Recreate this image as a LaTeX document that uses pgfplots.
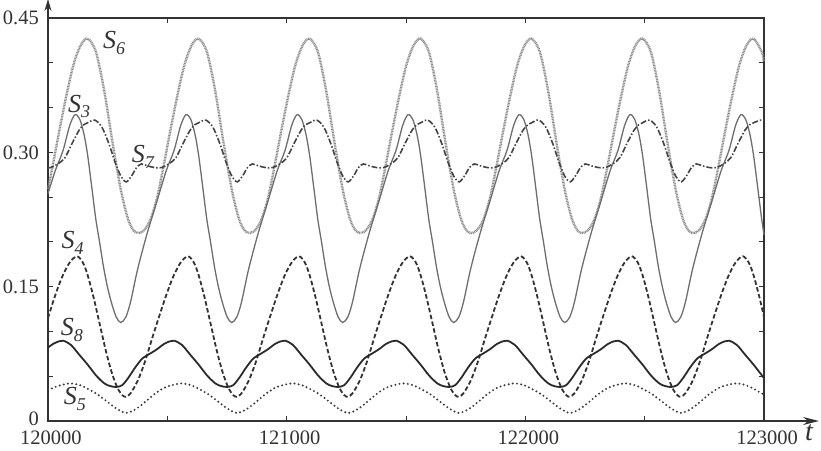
\documentclass[border=0pt]{standalone}
\usepackage{pgfplots}
\pgfplotsset{compat=1.18}
\usepackage{fontspec}
\setmainfont{Liberation Serif}
\usetikzlibrary{arrows.meta}
\definecolor{axc}{HTML}{333333}
\definecolor{cS6}{HTML}{8A8A8A}
\definecolor{cS3}{HTML}{6E6E6E}
\definecolor{cS7}{HTML}{444444}
\definecolor{cS4}{HTML}{333333}
\definecolor{cS8}{HTML}{2B2B2B}
\definecolor{cS5}{HTML}{3A3A3A}
\newcommand\lab[1]{{\fontsize{26}{26}\selectfont\itshape S\raisebox{-5.5pt}{\fontsize{18}{18}\selectfont #1}}}
\begin{document}
\begin{tikzpicture}
\begin{axis}[
  width=716pt, height=403pt, scale only axis,
  xmin=120000, xmax=123000, ymin=0, ymax=0.45,
  clip=false,
  axis line style={axc, line width=1.6pt},
  xtick={120000,121000,122000,123000},
  xticklabels={120000,121000,122000,123000},
  minor xtick={120500,121500,122500},
  ytick={0,0.15,0.3,0.45},
  yticklabels={\raisebox{4pt}{0},0.15,0.30,0.45},
  minor ytick={0.05,0.1,0.2,0.25,0.35,0.4},
  tick align=inside, tick pos=both,
  major tick length=5pt, minor tick length=5pt,
  every tick/.style={axc, line width=1pt},
  tick label style={font=\fontsize{20.5}{22}\selectfont, text=axc},
  /pgf/number format/assume math mode=true,
  xticklabel style={yshift=-10pt, xshift=3pt, inner sep=0pt},
  yticklabel style={xshift=-9pt, inner sep=0pt},
  scaled x ticks=false, scaled y ticks=false,
]
% S6
\addplot[cS6, line width=2.4pt, dash pattern=on 0.9pt off 0.7pt, smooth] coordinates {
(120000,0.259)(120016,0.280)(120046,0.322)(120076,0.362)(120106,0.397)(120136,0.419)
(120166,0.427)(120201,0.412)(120236,0.368)(120271,0.310)(120306,0.257)(120336,0.225)(120361,0.212)(120384,0.210)(120406,0.214)(120431,0.226)(120456,0.248)(120481,0.280)(120511,0.322)(120541,0.362)(120571,0.397)(120601,0.419)
(120631,0.427)(120666,0.412)(120701,0.368)(120736,0.310)(120771,0.257)(120801,0.225)(120826,0.212)(120849,0.210)(120871,0.214)(120896,0.226)(120921,0.248)(120946,0.280)(120976,0.322)(121006,0.362)(121036,0.397)(121066,0.419)
(121096,0.427)(121131,0.412)(121166,0.368)(121201,0.310)(121236,0.257)(121266,0.225)(121291,0.212)(121314,0.210)(121336,0.214)(121361,0.226)(121386,0.248)(121411,0.280)(121441,0.322)(121471,0.362)(121501,0.397)(121531,0.419)
(121561,0.427)(121596,0.412)(121631,0.368)(121666,0.310)(121701,0.257)(121731,0.225)(121756,0.212)(121779,0.210)(121801,0.214)(121826,0.226)(121851,0.248)(121876,0.280)(121906,0.322)(121936,0.362)(121966,0.397)(121996,0.419)
(122026,0.427)(122061,0.412)(122096,0.368)(122131,0.310)(122166,0.257)(122196,0.225)(122221,0.212)(122244,0.210)(122266,0.214)(122291,0.226)(122316,0.248)(122341,0.280)(122371,0.322)(122401,0.362)(122431,0.397)(122461,0.419)
(122491,0.427)(122526,0.412)(122561,0.368)(122596,0.310)(122631,0.257)(122661,0.225)(122686,0.212)(122709,0.210)(122731,0.214)(122756,0.226)(122781,0.248)(122806,0.280)(122836,0.322)(122866,0.362)(122896,0.397)(122926,0.419)
(122956,0.427)(122991,0.412)(123000,0.401)
};
% S3
\addplot[cS3, line width=1.3pt, smooth] coordinates {
(120000,0.254)(120031,0.280)(120063,0.302)(120091,0.330)(120113,0.342)(120133,0.337)(120151,0.320)
(120166,0.297)(120183,0.262)(120200,0.226)(120216,0.200)(120232,0.173)(120248,0.151)(120266,0.132)(120286,0.116)(120305,0.110)(120326,0.116)(120346,0.133)(120376,0.170)(120416,0.210)(120456,0.245)(120496,0.280)(120528,0.302)(120556,0.330)(120578,0.342)(120598,0.337)(120616,0.320)
(120631,0.297)(120648,0.262)(120665,0.226)(120681,0.200)(120697,0.173)(120713,0.151)(120731,0.132)(120751,0.116)(120770,0.110)(120791,0.116)(120811,0.133)(120841,0.170)(120881,0.210)(120921,0.245)(120961,0.280)(120993,0.302)(121021,0.330)(121043,0.342)(121063,0.337)(121081,0.320)
(121096,0.297)(121113,0.262)(121130,0.226)(121146,0.200)(121162,0.173)(121178,0.151)(121196,0.132)(121216,0.116)(121235,0.110)(121256,0.116)(121276,0.133)(121306,0.170)(121346,0.210)(121386,0.245)(121426,0.280)(121458,0.302)(121486,0.330)(121508,0.342)(121528,0.337)(121546,0.320)
(121561,0.297)(121578,0.262)(121595,0.226)(121611,0.200)(121627,0.173)(121643,0.151)(121661,0.132)(121681,0.116)(121700,0.110)(121721,0.116)(121741,0.133)(121771,0.170)(121811,0.210)(121851,0.245)(121891,0.280)(121923,0.302)(121951,0.330)(121973,0.342)(121993,0.337)(122011,0.320)
(122026,0.297)(122043,0.262)(122060,0.226)(122076,0.200)(122092,0.173)(122108,0.151)(122126,0.132)(122146,0.116)(122165,0.110)(122186,0.116)(122206,0.133)(122236,0.170)(122276,0.210)(122316,0.245)(122356,0.280)(122388,0.302)(122416,0.330)(122438,0.342)(122458,0.337)(122476,0.320)
(122491,0.297)(122508,0.262)(122525,0.226)(122541,0.200)(122557,0.173)(122573,0.151)(122591,0.132)(122611,0.116)(122630,0.110)(122651,0.116)(122671,0.133)(122701,0.170)(122741,0.210)(122781,0.245)(122821,0.280)(122853,0.302)(122881,0.330)(122903,0.342)(122923,0.337)(122941,0.320)
(122956,0.297)(122973,0.262)(122990,0.226)(123000,0.208)
};
% S7
\addplot[cS7, line width=1.6pt, dash pattern=on 6pt off 2pt on 1.5pt off 2pt, smooth] coordinates {
(120000,0.283)(120011,0.283)(120041,0.287)(120071,0.294)(120101,0.310)(120131,0.325)(120151,0.331)
(120166,0.333)(120196,0.336)(120226,0.328)(120256,0.309)(120281,0.289)(120306,0.273)(120328,0.267)(120351,0.274)(120371,0.283)(120391,0.287)(120416,0.285)(120446,0.283)(120476,0.283)(120506,0.287)(120536,0.294)(120566,0.310)(120596,0.325)(120616,0.331)
(120631,0.333)(120661,0.336)(120691,0.328)(120721,0.309)(120746,0.289)(120771,0.273)(120793,0.267)(120816,0.274)(120836,0.283)(120856,0.287)(120881,0.285)(120911,0.283)(120941,0.283)(120971,0.287)(121001,0.294)(121031,0.310)(121061,0.325)(121081,0.331)
(121096,0.333)(121126,0.336)(121156,0.328)(121186,0.309)(121211,0.289)(121236,0.273)(121258,0.267)(121281,0.274)(121301,0.283)(121321,0.287)(121346,0.285)(121376,0.283)(121406,0.283)(121436,0.287)(121466,0.294)(121496,0.310)(121526,0.325)(121546,0.331)
(121561,0.333)(121591,0.336)(121621,0.328)(121651,0.309)(121676,0.289)(121701,0.273)(121723,0.267)(121746,0.274)(121766,0.283)(121786,0.287)(121811,0.285)(121841,0.283)(121871,0.283)(121901,0.287)(121931,0.294)(121961,0.310)(121991,0.325)(122011,0.331)
(122026,0.333)(122056,0.336)(122086,0.328)(122116,0.309)(122141,0.289)(122166,0.273)(122188,0.267)(122211,0.274)(122231,0.283)(122251,0.287)(122276,0.285)(122306,0.283)(122336,0.283)(122366,0.287)(122396,0.294)(122426,0.310)(122456,0.325)(122476,0.331)
(122491,0.333)(122521,0.336)(122551,0.328)(122581,0.309)(122606,0.289)(122631,0.273)(122653,0.267)(122676,0.274)(122696,0.283)(122716,0.287)(122741,0.285)(122771,0.283)(122801,0.283)(122831,0.287)(122861,0.294)(122891,0.310)(122921,0.325)(122941,0.331)
(122956,0.333)(122986,0.336)(123000,0.335)
};
% S4
\addplot[cS4, line width=1.8pt, dash pattern=on 4.5pt off 2.5pt, smooth] coordinates {
(120000,0.115)(120031,0.141)(120061,0.162)(120091,0.177)(120121,0.184)(120146,0.177)
(120166,0.163)(120191,0.138)(120216,0.109)(120241,0.080)(120266,0.055)(120291,0.037)(120311,0.029)(120326,0.027)(120346,0.031)(120376,0.045)(120406,0.066)(120436,0.092)(120466,0.117)(120496,0.141)(120526,0.162)(120556,0.177)(120586,0.184)(120611,0.177)
(120631,0.163)(120656,0.138)(120681,0.109)(120706,0.080)(120731,0.055)(120756,0.037)(120776,0.029)(120791,0.027)(120811,0.031)(120841,0.045)(120871,0.066)(120901,0.092)(120931,0.117)(120961,0.141)(120991,0.162)(121021,0.177)(121051,0.184)(121076,0.177)
(121096,0.163)(121121,0.138)(121146,0.109)(121171,0.080)(121196,0.055)(121221,0.037)(121241,0.029)(121256,0.027)(121276,0.031)(121306,0.045)(121336,0.066)(121366,0.092)(121396,0.117)(121426,0.141)(121456,0.162)(121486,0.177)(121516,0.184)(121541,0.177)
(121561,0.163)(121586,0.138)(121611,0.109)(121636,0.080)(121661,0.055)(121686,0.037)(121706,0.029)(121721,0.027)(121741,0.031)(121771,0.045)(121801,0.066)(121831,0.092)(121861,0.117)(121891,0.141)(121921,0.162)(121951,0.177)(121981,0.184)(122006,0.177)
(122026,0.163)(122051,0.138)(122076,0.109)(122101,0.080)(122126,0.055)(122151,0.037)(122171,0.029)(122186,0.027)(122206,0.031)(122236,0.045)(122266,0.066)(122296,0.092)(122326,0.117)(122356,0.141)(122386,0.162)(122416,0.177)(122446,0.184)(122471,0.177)
(122491,0.163)(122516,0.138)(122541,0.109)(122566,0.080)(122591,0.055)(122616,0.037)(122636,0.029)(122651,0.027)(122671,0.031)(122701,0.045)(122731,0.066)(122761,0.092)(122791,0.117)(122821,0.141)(122851,0.162)(122881,0.177)(122911,0.184)(122936,0.177)
(122956,0.163)(122981,0.138)(123000,0.116)
};
% S8
\addplot[cS8, line width=1.8pt, smooth] coordinates {
(120000,0.082)(120021,0.086)(120046,0.089)(120064,0.0897)(120096,0.085)(120131,0.074)
(120166,0.063)(120201,0.051)(120236,0.042)(120261,0.039)(120286,0.038)(120311,0.040)(120336,0.048)(120366,0.060)(120396,0.070)(120426,0.075)(120456,0.080)(120486,0.086)(120511,0.089)(120529,0.0897)(120561,0.085)(120596,0.074)
(120631,0.063)(120666,0.051)(120701,0.042)(120726,0.039)(120751,0.038)(120776,0.040)(120801,0.048)(120831,0.060)(120861,0.070)(120891,0.075)(120921,0.080)(120951,0.086)(120976,0.089)(120994,0.0897)(121026,0.085)(121061,0.074)
(121096,0.063)(121131,0.051)(121166,0.042)(121191,0.039)(121216,0.038)(121241,0.040)(121266,0.048)(121296,0.060)(121326,0.070)(121356,0.075)(121386,0.080)(121416,0.086)(121441,0.089)(121459,0.0897)(121491,0.085)(121526,0.074)
(121561,0.063)(121596,0.051)(121631,0.042)(121656,0.039)(121681,0.038)(121706,0.040)(121731,0.048)(121761,0.060)(121791,0.070)(121821,0.075)(121851,0.080)(121881,0.086)(121906,0.089)(121924,0.0897)(121956,0.085)(121991,0.074)
(122026,0.063)(122061,0.051)(122096,0.042)(122121,0.039)(122146,0.038)(122171,0.040)(122196,0.048)(122226,0.060)(122256,0.070)(122286,0.075)(122316,0.080)(122346,0.086)(122371,0.089)(122389,0.0897)(122421,0.085)(122456,0.074)
(122491,0.063)(122526,0.051)(122561,0.042)(122586,0.039)(122611,0.038)(122636,0.040)(122661,0.048)(122691,0.060)(122721,0.070)(122751,0.075)(122781,0.080)(122811,0.086)(122836,0.089)(122854,0.0897)(122886,0.085)(122921,0.074)
(122956,0.063)(122991,0.051)(123000,0.048)
};
% S5
\addplot[cS5, line width=2.2pt, line cap=round, dash pattern=on 0pt off 4.2pt, smooth] coordinates {
(120000,0.0345)(120021,0.037)(120054,0.040)(120094,0.042)(120134,0.040)
(120166,0.036)(120206,0.030)(120246,0.022)(120286,0.014)(120326,0.009)(120366,0.013)(120406,0.021)(120446,0.030)(120486,0.037)(120519,0.040)(120559,0.042)(120599,0.040)
(120631,0.036)(120671,0.030)(120711,0.022)(120751,0.014)(120791,0.009)(120831,0.013)(120871,0.021)(120911,0.030)(120951,0.037)(120984,0.040)(121024,0.042)(121064,0.040)
(121096,0.036)(121136,0.030)(121176,0.022)(121216,0.014)(121256,0.009)(121296,0.013)(121336,0.021)(121376,0.030)(121416,0.037)(121449,0.040)(121489,0.042)(121529,0.040)
(121561,0.036)(121601,0.030)(121641,0.022)(121681,0.014)(121721,0.009)(121761,0.013)(121801,0.021)(121841,0.030)(121881,0.037)(121914,0.040)(121954,0.042)(121994,0.040)
(122026,0.036)(122066,0.030)(122106,0.022)(122146,0.014)(122186,0.009)(122226,0.013)(122266,0.021)(122306,0.030)(122346,0.037)(122379,0.040)(122419,0.042)(122459,0.040)
(122491,0.036)(122531,0.030)(122571,0.022)(122611,0.014)(122651,0.009)(122691,0.013)(122731,0.021)(122771,0.030)(122811,0.037)(122844,0.040)(122884,0.042)(122924,0.040)
(122956,0.036)(122996,0.030)(123000,0.0295)
};
% arrows
\draw[axc, line width=1.6pt, -{Stealth[length=16pt,width=8pt]}] (rel axis cs:1,0) -- ([xshift=55pt]rel axis cs:1,0);
\draw[axc, line width=1.6pt, -{Stealth[length=12pt,width=7pt]}] (rel axis cs:0,1) -- ([yshift=19pt]rel axis cs:0,1);
\node[text=axc, font=\fontsize{28}{28}\selectfont\itshape, inner sep=0pt] at ([xshift=45pt,yshift=-12pt]rel axis cs:1,0) {t};
% labels
\node[text=axc, inner sep=0pt] at (axis cs:120277,0.422) {\lab{6}};
\node[text=axc, inner sep=0pt] at (axis cs:120130,0.351) {\lab{3}};
\node[text=axc, inner sep=0pt] at (axis cs:120398,0.295) {\lab{7}};
\node[text=axc, inner sep=0pt] at (axis cs:120103,0.199) {\lab{4}};
\node[text=axc, inner sep=0pt] at (axis cs:120100,0.1016) {\lab{8}};
\node[text=axc, inner sep=0pt] at (axis cs:120113,0.0246) {\lab{5}};
\end{axis}
\pgfresetboundingbox
\path ([xshift=-48pt,yshift=-29pt]current axis.south west) rectangle ([xshift=57pt,yshift=18pt]current axis.north east);
\end{tikzpicture}
\end{document}
